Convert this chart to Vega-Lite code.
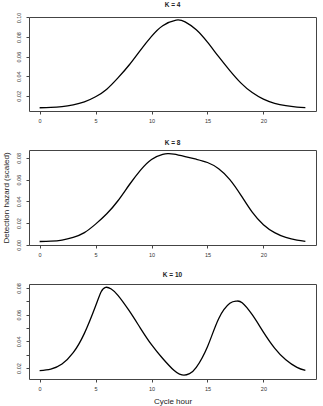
{
  "$schema": "https://vega.github.io/schema/vega-lite/v6.json",
  "padding": {"left": 1, "top": 1, "right": 5, "bottom": 2},
  "spacing": 39,
  "bounds": "flush",
  "config": {
    "font": "Liberation Sans",
    "view": {"stroke": "#444", "strokeWidth": 1},
    "axis": {
      "grid": false,
      "domain": false,
      "ticks": true,
      "tickSize": 3,
      "tickColor": "#444",
      "labelFontSize": 5.5,
      "labelColor": "#333",
      "labelFlush": false,
      "labelOverlap": false,
      "titleFontSize": 8,
      "titleFontWeight": "normal",
      "titleColor": "#222"
    },
    "axisX": {"labelPadding": 4.5, "titlePadding": 5},
    "axisY": {"labelAngle": 270, "labelAlign": "center", "labelBaseline": "bottom", "labelPadding": 5, "titlePadding": 6},
    "title": {"fontSize": 6.5, "fontWeight": "bold", "offset": 4, "color": "#222", "anchor": "middle"}
  },
  "data": {"values": [
    {"K": 4, "hour": 0, "hazard": 0.0078},
    {"K": 4, "hour": 1, "hazard": 0.0081},
    {"K": 4, "hour": 2, "hazard": 0.0090},
    {"K": 4, "hour": 3, "hazard": 0.0108},
    {"K": 4, "hour": 4, "hazard": 0.0138},
    {"K": 4, "hour": 5, "hazard": 0.0190},
    {"K": 4, "hour": 6, "hazard": 0.0268},
    {"K": 4, "hour": 7, "hazard": 0.0383},
    {"K": 4, "hour": 8, "hazard": 0.0515},
    {"K": 4, "hour": 9, "hazard": 0.0665},
    {"K": 4, "hour": 10, "hazard": 0.0807},
    {"K": 4, "hour": 11, "hazard": 0.0916},
    {"K": 4, "hour": 12.2, "hazard": 0.0974},
    {"K": 4, "hour": 13, "hazard": 0.0955},
    {"K": 4, "hour": 14, "hazard": 0.0875},
    {"K": 4, "hour": 15, "hazard": 0.0748},
    {"K": 4, "hour": 16, "hazard": 0.0600},
    {"K": 4, "hour": 17, "hazard": 0.0458},
    {"K": 4, "hour": 18, "hazard": 0.0330},
    {"K": 4, "hour": 19, "hazard": 0.0233},
    {"K": 4, "hour": 20, "hazard": 0.0166},
    {"K": 4, "hour": 21, "hazard": 0.0123},
    {"K": 4, "hour": 22, "hazard": 0.0099},
    {"K": 4, "hour": 23, "hazard": 0.0085},
    {"K": 4, "hour": 23.75, "hazard": 0.0079},
    {"K": 8, "hour": 0, "hazard": 0.0030},
    {"K": 8, "hour": 1, "hazard": 0.0033},
    {"K": 8, "hour": 2, "hazard": 0.0043},
    {"K": 8, "hour": 3, "hazard": 0.0068},
    {"K": 8, "hour": 4, "hazard": 0.0112},
    {"K": 8, "hour": 5, "hazard": 0.0190},
    {"K": 8, "hour": 6, "hazard": 0.0285},
    {"K": 8, "hour": 7, "hazard": 0.0405},
    {"K": 8, "hour": 8, "hazard": 0.0550},
    {"K": 8, "hour": 9, "hazard": 0.0685},
    {"K": 8, "hour": 10, "hazard": 0.0785},
    {"K": 8, "hour": 11, "hazard": 0.0832},
    {"K": 8, "hour": 11.5, "hazard": 0.0838},
    {"K": 8, "hour": 12, "hazard": 0.0834},
    {"K": 8, "hour": 13, "hazard": 0.0812},
    {"K": 8, "hour": 14, "hazard": 0.0787},
    {"K": 8, "hour": 15, "hazard": 0.0757},
    {"K": 8, "hour": 16, "hazard": 0.0700},
    {"K": 8, "hour": 17, "hazard": 0.0600},
    {"K": 8, "hour": 18, "hazard": 0.0455},
    {"K": 8, "hour": 19, "hazard": 0.0300},
    {"K": 8, "hour": 20, "hazard": 0.0185},
    {"K": 8, "hour": 21, "hazard": 0.0112},
    {"K": 8, "hour": 22, "hazard": 0.0068},
    {"K": 8, "hour": 23, "hazard": 0.0042},
    {"K": 8, "hour": 23.75, "hazard": 0.0031},
    {"K": 10, "hour": 0, "hazard": 0.0180},
    {"K": 10, "hour": 1, "hazard": 0.0192},
    {"K": 10, "hour": 2, "hazard": 0.0230},
    {"K": 10, "hour": 3, "hazard": 0.0315},
    {"K": 10, "hour": 4, "hazard": 0.0460},
    {"K": 10, "hour": 5, "hazard": 0.0665},
    {"K": 10, "hour": 5.5, "hazard": 0.0772},
    {"K": 10, "hour": 5.9, "hazard": 0.0805},
    {"K": 10, "hour": 6.4, "hazard": 0.0793},
    {"K": 10, "hour": 7, "hazard": 0.0745},
    {"K": 10, "hour": 8, "hazard": 0.0630},
    {"K": 10, "hour": 9, "hazard": 0.0500},
    {"K": 10, "hour": 10, "hazard": 0.0375},
    {"K": 10, "hour": 11, "hazard": 0.0272},
    {"K": 10, "hour": 12, "hazard": 0.0183},
    {"K": 10, "hour": 12.5, "hazard": 0.0155},
    {"K": 10, "hour": 12.9, "hazard": 0.0147},
    {"K": 10, "hour": 13.4, "hazard": 0.0158},
    {"K": 10, "hour": 14, "hazard": 0.0205},
    {"K": 10, "hour": 15, "hazard": 0.0360},
    {"K": 10, "hour": 16, "hazard": 0.0570},
    {"K": 10, "hour": 17, "hazard": 0.0685},
    {"K": 10, "hour": 17.6, "hazard": 0.0702},
    {"K": 10, "hour": 18.1, "hazard": 0.0690},
    {"K": 10, "hour": 19, "hazard": 0.0600},
    {"K": 10, "hour": 20, "hazard": 0.0470},
    {"K": 10, "hour": 21, "hazard": 0.0350},
    {"K": 10, "hour": 22, "hazard": 0.0262},
    {"K": 10, "hour": 23, "hazard": 0.0205},
    {"K": 10, "hour": 23.75, "hazard": 0.0182}
  ]},
  "vconcat": [
    {
      "width": 287, "height": 94,
      "title": {"text": "K = 4"},
      "transform": [{"filter": "datum.K == 4"}],
      "mark": {"type": "line", "color": "black", "strokeWidth": 1.3, "interpolate": "natural"},
      "encoding": {
        "x": {"field": "hour", "type": "quantitative", "scale": {"domain": [-0.95, 24.7], "nice": false, "zero": false}, "axis": {"values": [0, 5, 10, 15, 20], "title": null}},
        "y": {"field": "hazard", "type": "quantitative", "scale": {"domain": [0.0045, 0.1005], "nice": false, "zero": false}, "axis": {"values": [0.02, 0.04, 0.06, 0.08, 0.10], "format": ".2f", "title": null}}
      }
    },
    {
      "width": 287, "height": 95,
      "title": {"text": "K = 8"},
      "transform": [{"filter": "datum.K == 8"}],
      "mark": {"type": "line", "color": "black", "strokeWidth": 1.3, "interpolate": "natural"},
      "encoding": {
        "x": {"field": "hour", "type": "quantitative", "scale": {"domain": [-0.95, 24.7], "nice": false, "zero": false}, "axis": {"values": [0, 5, 10, 15, 20], "title": null}},
        "y": {"field": "hazard", "type": "quantitative", "scale": {"domain": [-0.0002, 0.0872], "nice": false, "zero": false}, "axis": {"values": [0, 0.02, 0.04, 0.06, 0.08], "format": ".2f", "title": "Detection hazard (scaled)"}}
      }
    },
    {
      "width": 287, "height": 95,
      "title": {"text": "K = 10"},
      "transform": [{"filter": "datum.K == 10"}],
      "mark": {"type": "line", "color": "black", "strokeWidth": 1.3, "interpolate": "natural"},
      "encoding": {
        "x": {"field": "hour", "type": "quantitative", "scale": {"domain": [-0.95, 24.7], "nice": false, "zero": false}, "axis": {"values": [0, 5, 10, 15, 20], "title": "Cycle hour"}},
        "y": {"field": "hazard", "type": "quantitative", "scale": {"domain": [0.0118, 0.083], "nice": false, "zero": false}, "axis": {"values": [0.02, 0.03, 0.04, 0.05, 0.06, 0.07, 0.08], "labelExpr": "round(datum.value * 100) % 2 == 0 ? format(datum.value, '.2f') : ''", "title": null}}
      }
    }
  ]
}
